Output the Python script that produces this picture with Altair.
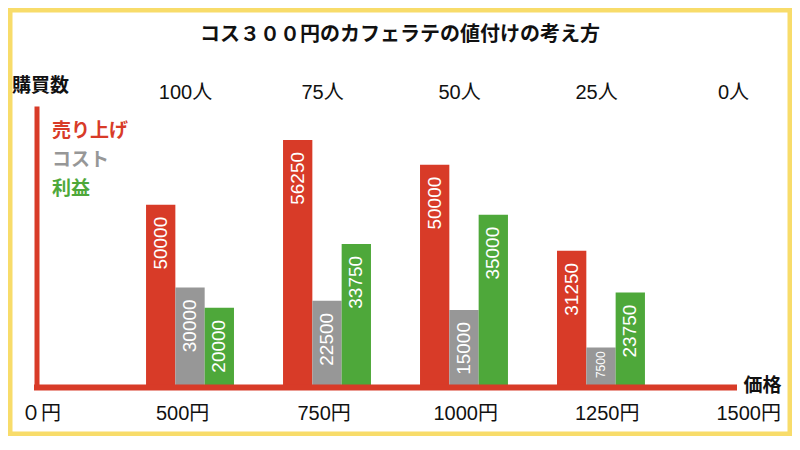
import altair as alt
import pandas as pd

# ---------------- data ----------------
title_text = "コス３００円のカフェラテの値付けの考え方"
prices = ["500円", "750円", "1000円", "1250円"]
series_names = ["売り上げ", "コスト", "利益"]
series_colors = ["#d83b28", "#979797", "#4ea83a"]

sales = [50000, 56250, 50000, 31250]
costs = [30000, 22500, 15000, 7500]
profits = [20000, 33750, 35000, 23750]

# bar heights as they are drawn in the picture (the original bars are not to scale)
sales_drawn = [41900, 56800, 51100, 31300]
costs_drawn = [22900, 19800, 17700, 9100]
profits_drawn = [18200, 32900, 39600, 21700]
y_max = 64600

price_labels = ["０円", "500円", "750円", "1000円", "1250円", "1500円"]
buyer_labels = ["100人", "75人", "50人", "25人", "0人"]

# ---------------- styles ----------------
RED = "#d83b28"
YELLOW = "#f8dc6a"
INK = "#111111"
CJK = "Noto Sans CJK JP"
MIXED = "'Liberation Sans', 'Noto Sans CJK JP'"

rows = []
for i, p in enumerate(prices):
    for s, vals, drawn in zip(series_names, [sales, costs, profits],
                              [sales_drawn, costs_drawn, profits_drawn]):
        rows.append({"price": p, "series": s, "value": vals[i], "height": drawn[i]})
bars_df = pd.DataFrame(rows)

x_bar_scale = alt.Scale(domain=prices, paddingInner=0.358, paddingOuter=0.723, align=0.553)
y_bar_scale = alt.Scale(domain=[0, y_max], nice=False, zero=True)
color_enc = alt.Color("series:N", scale=alt.Scale(domain=series_names, range=series_colors), legend=None)
xoff_enc = alt.XOffset("series:N", sort=series_names, scale=alt.Scale(domain=series_names))

frame = alt.Chart(pd.DataFrame({"k": [0]})).mark_rect(
    filled=False, stroke=YELLOW, strokeWidth=9
).encode(x=alt.value(-28.5), x2=alt.value(755.5), y=alt.value(-98), y2=alt.value(330))

title = alt.Chart(pd.DataFrame({"t": [title_text]})).mark_text(
    font=CJK, fontSize=20, fontWeight="bold", color=INK, align="center", baseline="middle"
).encode(x=alt.value(363.5), y=alt.value(-71), text="t:N")

bars = alt.Chart(bars_df).mark_bar().encode(
    x=alt.X("price:N", sort=prices, scale=x_bar_scale,
            axis=alt.Axis(labels=False, ticks=False, grid=False, domainColor=RED,
                          domainWidth=6, domainCap="square", title="価格",
                          titleX=725.5, titleY=-1.5, titleAngle=0, titleAlign="center",
                          titleBaseline="middle", titleFont=CJK, titleFontSize=19,
                          titleFontWeight="bold", titleColor=INK, zindex=1)),
    xOffset=xoff_enc,
    y=alt.Y("height:Q", scale=y_bar_scale,
            axis=alt.Axis(labels=False, ticks=False, grid=False, domainColor=RED,
                          domainWidth=5, title="購買数", titleX=3.5, titleY=-21,
                          titleAngle=0, titleAlign="center", titleBaseline="middle",
                          titleFont=CJK, titleFontSize=19, titleFontWeight="bold",
                          titleColor=INK, zindex=1)),
    color=color_enc,
)

bar_labels_big = alt.Chart(bars_df).transform_filter("datum.value >= 10000").mark_text(
    angle=270, align="right", baseline="middle", dx=-12, color="white",
    font="Liberation Sans", fontSize=19
).encode(
    x=alt.X("price:N", sort=prices, scale=x_bar_scale, axis=None),
    xOffset=xoff_enc,
    y=alt.Y("height:Q", scale=y_bar_scale, axis=None),
    text=alt.Text("value:Q", format="d"),
)

bar_labels_small = alt.Chart(bars_df).transform_filter("datum.value < 10000").mark_text(
    angle=270, align="right", baseline="middle", dx=-4, color="white",
    font="Liberation Sans", fontSize=12
).encode(
    x=alt.X("price:N", sort=prices, scale=x_bar_scale, axis=None),
    xOffset=xoff_enc,
    y=alt.Y("height:Q", scale=y_bar_scale, axis=None),
    text=alt.Text("value:Q", format="d"),
)

top_labels = alt.Chart(pd.DataFrame({"buyers": buyer_labels})).mark_text(
    font=MIXED, fontSize=20, color=INK, align="center", baseline="middle"
).encode(
    x=alt.X("buyers:N", sort=buyer_labels,
            scale=alt.Scale(type="point", domain=buyer_labels, padding=0.544, align=1.0),
            axis=None),
    y=alt.value(-13.5),
    text="buyers:N",
)

bottom_labels = alt.Chart(pd.DataFrame({"price_label": price_labels})).mark_text(
    font=MIXED, fontSize=20, color=INK, align="center", baseline="middle"
).encode(
    x=alt.X("price_label:N", sort=price_labels,
            scale=alt.Scale(type="point", domain=price_labels, range=[4.6, 712.2], padding=0),
            axis=None),
    y=alt.value(307.5),
    text="price_label:N",
)

legend = alt.Chart(pd.DataFrame({"series": series_names})).mark_text(
    font=CJK, fontSize=19, fontWeight="bold", align="left", baseline="middle"
).encode(
    x=alt.value(15.5),
    y=alt.Y("series:N", sort=series_names,
            scale=alt.Scale(type="point", domain=series_names, range=[25, 83], padding=0),
            axis=None),
    text="series:N",
    color=color_enc,
)

chart = alt.layer(
    frame, title, bars, bar_labels_big, bar_labels_small, top_labels, bottom_labels, legend
).resolve_scale(
    x="independent", y="independent"
).properties(
    width=697, height=281,
    padding={"left": 28.5, "top": 98, "right": 58.5, "bottom": 49},
    autosize=alt.AutoSizeParams(type="none"),
    background="white",
).configure_view(stroke=None)

chart.save("out.html", embed_options={"renderer": "svg", "actions": False})
